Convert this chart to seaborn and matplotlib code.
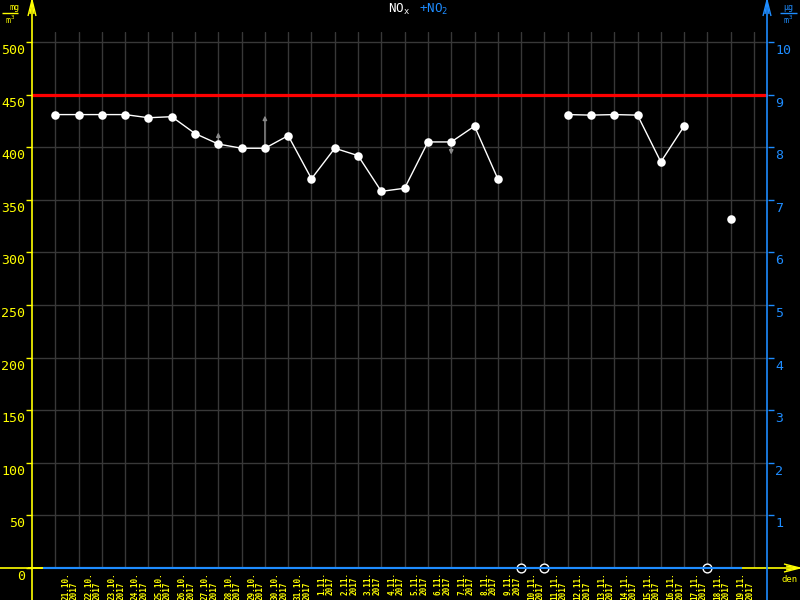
import numpy as np
import pandas as pd
import matplotlib
matplotlib.use("Agg")
import matplotlib.pyplot as plt
import matplotlib.transforms as mtrans
from matplotlib.lines import Line2D
import seaborn as sns

# ---------------- data ----------------
days = ["21.10.", "22.10.", "23.10.", "24.10.", "25.10.", "26.10.", "27.10.",
        "28.10.", "29.10.", "30.10.", "31.10.", "1.11.", "2.11.", "3.11.",
        "4.11.", "5.11.", "6.11.", "7.11.", "8.11.", "9.11.", "10.11.",
        "11.11.", "12.11.", "13.11.", "14.11.", "15.11.", "16.11.", "17.11.",
        "18.11.", "19.11."]
year = "2017"
nox = [431, 431, 431, 431, 428, 429, 413, 403, 399, 399, 411, 370, 399, 392,
       358, 361, 405, 405, 420, 370, np.nan, np.nan, 431, 430.5, 431, 430.5,
       386, 420, np.nan, 332]
limit_value = 450
arrow_days = ["28.10.", "30.10.", "7.11."]
arrow_tips = [414, 430, 393]

left_ticks = list(range(0, 501, 50))
right_ticks = list(range(1, 11))

YELLOW = "#ffff00"
BLUE = "#1e8cff"
GRID = "#383838"

# ---------------- style ----------------
sns.set_theme(style="dark")
plt.rcParams["font.family"] = ["DejaVu Sans Mono"]
plt.rcParams["mathtext.default"] = "regular"

W, H = 800, 600
fig = plt.figure(figsize=(8, 6), dpi=100, facecolor="black")

def fx(px):
    return px / W

def fy(py):
    return 1 - py / H

x_left, x_right, y_bot, y_top = 32, 768, 568, 32
ax = fig.add_axes([fx(x_left), fy(y_bot), fx(x_right) - fx(x_left),
                   fy(y_top) - fy(y_bot)])
ax.set_facecolor("black")
for s in ax.spines.values():
    s.set_visible(False)

px_per_val = 526 / 500
px_per_day = 23.29
ymax = (y_bot - y_top) / px_per_val
ax.set_ylim(0, ymax)
ax.set_xlim(-1, (x_right - x_left) / px_per_day - 1)

df = pd.DataFrame({"i": np.arange(len(days)), "day": days, "nox": nox})

# grid
n = len(days)
ax.set_xticks(np.arange(0, n + 1))
ax.set_xticks(np.arange(1, n + 1), minor=True)
ax.xaxis.remove_overlapping_locs = False
ax.set_xticklabels([])
ax.tick_params(axis="x", which="major", length=0)
ax.tick_params(axis="x", which="minor", length=5, width=1, color=YELLOW,
               direction="out")
ax.set_yticks(left_ticks)
ax.grid(True, color=GRID, lw=1.0)
ax.set_axisbelow(True)
ax.tick_params(axis="y", length=4, width=1, color=YELLOW, labelcolor=YELLOW,
               labelsize=9.5, pad=1)
ax.set_yticklabels([str(v) for v in left_ticks])
offset = mtrans.ScaledTranslation(0, -7 / 100, fig.dpi_scale_trans)
for lab in ax.get_yticklabels():
    lab.set_transform(lab.get_transform() + offset)

# limit line
ax.axhline(limit_value, color="red", lw=2.3, zorder=3)

# blue NO2 baseline
ax.hlines(0, -0.5, n - 0.5, color=BLUE, lw=1.5, zorder=4, clip_on=False)

# data line segments
seg = df["nox"].isna().cumsum()
for _, g in df.dropna().groupby(seg[df["nox"].notna()]):
    if len(g) > 1:
        sns.lineplot(data=g, x="i", y="nox", ax=ax, color="white", lw=1.0,
                     estimator=None, sort=False, zorder=5, legend=False)

# arrows
for d, tip in zip(arrow_days, arrow_tips):
    i = days.index(d)
    ax.annotate("", xy=(i, tip), xytext=(i, nox[i]),
                arrowprops=dict(arrowstyle="-|>", color="#8a8a8a", lw=1.0,
                                mutation_scale=6, shrinkA=0, shrinkB=0),
                zorder=4)

sns.scatterplot(data=df.dropna(), x="i", y="nox", ax=ax, color="white",
                s=38, edgecolor="white", linewidth=0, zorder=6, legend=False)

missing = df[df["nox"].isna()].assign(zero=0.0)
sns.scatterplot(data=missing, x="i", y="zero", ax=ax, color="black", s=40,
                edgecolor="white", linewidth=1.0, zorder=7, legend=False,
                clip_on=False)

ax.set_xlabel("")
ax.set_ylabel("")

# x labels
xform = mtrans.blended_transform_factory(ax.transData, ax.transAxes)
for i, d in enumerate(days):
    ax.text(i + 0.63, -0.007, d + "\n" + year, transform=xform, rotation=90,
            ha="center", va="top", multialignment="left", color=YELLOW,
            fontsize=5.5, fontweight="bold", linespacing=0.95, clip_on=False)

# right axis
ax2 = ax.twinx()
ax2.set_ylim(0, ymax / 50)
for s in ax2.spines.values():
    s.set_visible(False)
ax2.set_yticks(right_ticks)
ax2.set_yticklabels([str(v) for v in right_ticks])
ax2.tick_params(axis="y", length=4, width=1, color=BLUE, labelcolor=BLUE,
                labelsize=9.5, pad=1)
ax2.grid(False)
for lab in ax2.get_yticklabels():
    lab.set_transform(lab.get_transform() + offset)

# axis lines with arrows (figure pixel coords)
def fline(xs, ys, color, lw=1.2):
    fig.add_artist(Line2D([fx(x) for x in xs], [fy(y) for y in ys],
                          color=color, lw=lw, transform=fig.transFigure,
                          solid_capstyle="butt"))

fline([0, 800], [568, 568], YELLOW)
fline([43, 742], [568, 568], BLUE, 1.5)
fline([32, 32], [600, 0], YELLOW)
fline([28, 32, 36], [16, 0, 16], YELLOW, 1.0)
fline([30, 32, 34], [14, 2, 14], YELLOW, 1.0)
fline([767, 767], [600, 0], BLUE)
fline([763, 767, 771], [16, 0, 16], BLUE, 1.0)
fline([765, 767, 769], [14, 2, 14], BLUE, 1.0)
fline([784, 800, 784], [564, 568, 572], YELLOW, 1.0)
fline([786, 798, 786], [566, 568, 570], YELLOW, 1.0)
fline([28, 43], [568, 568], YELLOW)

# title and unit labels
fig.text(fx(388), fy(9), "NO$_x$", color="white", fontsize=9, va="center",
         ha="left")
fig.text(fx(419), fy(9), "+NO$_2$", color=BLUE, fontsize=9, va="center",
         ha="left")
# fraction-style units
fig.text(fx(14), fy(8), "mg", color=YELLOW, fontsize=6, ha="center",
         va="center")
fline([2, 18], [13, 13], YELLOW, 1.0)
fig.text(fx(10), fy(20), "m$^3$", color=YELLOW, fontsize=6, ha="center",
         va="center")
fig.text(fx(788), fy(8), "\u00b5g", color=BLUE, fontsize=6, ha="center",
         va="center")
fline([780, 797], [13, 13], BLUE, 1.0)
fig.text(fx(788), fy(20), "m$^3$", color=BLUE, fontsize=6, ha="center",
         va="center")
fig.text(fx(790), fy(580), "den", color=YELLOW, fontsize=6.5, ha="center",
         va="center")

fig.savefig("out.png", dpi=100, facecolor="black")
